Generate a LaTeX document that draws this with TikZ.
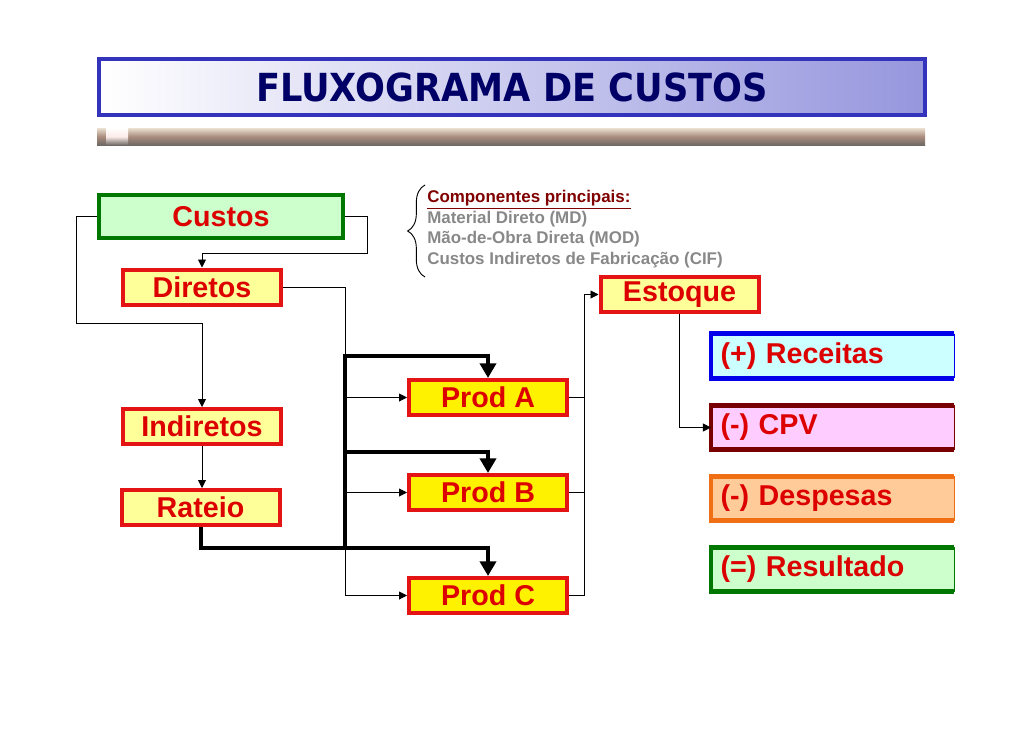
\documentclass[tikz,border=0pt]{standalone}
\usepackage{fontspec}
\setmainfont{Liberation Sans}
\newfontfamily\titlefont[FakeStretch=0.91]{DejaVu Sans}
\usetikzlibrary{arrows.meta,decorations.pathreplacing}

\definecolor{boxred}{RGB}{228,20,20}
\definecolor{txtred}{RGB}{220,0,0}
\definecolor{paleyellow}{RGB}{255,255,153}
\definecolor{boxgreen}{RGB}{0,120,0}
\definecolor{palegreen}{RGB}{204,255,204}
\definecolor{recblue}{RGB}{0,0,235}
\definecolor{recfill}{RGB}{204,255,255}
\definecolor{cpvred}{RGB}{120,0,0}
\definecolor{cpvfill}{RGB}{255,204,255}
\definecolor{despor}{RGB}{240,110,20}
\definecolor{despfill}{RGB}{255,204,153}
\definecolor{titleblue}{RGB}{51,51,187}
\definecolor{titlefill}{RGB}{150,150,222}
\definecolor{titletext}{RGB}{0,0,102}
\definecolor{notegray}{RGB}{136,136,136}
\definecolor{notered}{RGB}{128,0,0}
\definecolor{barmid}{RGB}{170,140,125}
\definecolor{bartop}{RGB}{235,225,210}
\definecolor{barlow}{RGB}{110,105,100}

\tikzset{
  bigfont/.style={font=\bfseries\fontsize{21.5}{24}\selectfont},
  box/.style={draw=boxred, line width=3pt, fill=paleyellow, text=txtred, inner sep=0pt,
    minimum width=118.5pt, minimum height=26.25pt, bigfont},
  prod/.style={box, fill=yellow},
  result/.style={text=txtred, text width=168pt, inner xsep=7pt, inner ysep=0pt,
    minimum height=33pt, align=left, bigfont},
  link/.style={line width=0.7pt, -{Triangle[length=6pt,width=6pt]}},
  wire/.style={line width=0.7pt},
  fat/.style={line width=3pt, -{Triangle[length=11pt,width=12pt]}}
}

\begin{document}
\begin{tikzpicture}[x=0.75pt,y=-0.75pt]
  \useasboundingbox (0,0) rectangle (1030,728);

  % title and bar below it
  \node[draw=titleblue, line width=3pt, left color=white, right color=titlefill,
    minimum width=619.5pt, minimum height=42pt, text=titletext,
    font=\titlefont\bfseries\fontsize{29}{32}\selectfont] (title) at (512,87) {FLUXOGRAMA DE CUSTOS};
  \shade[top color=bartop, bottom color=barlow, middle color=barmid]
    (97,128) rectangle (925,145);
  \shade[top color=white, bottom color=barlow, middle color=bartop!70!red!20!white] (106,128) rectangle (128,145);

  % boxes
  \node[box, fill=palegreen, draw=boxgreen, minimum width=183pt, minimum height=32.25pt] (custos) at (221,216.5) {Custos};
  \node[box] (diretos) at (202,287) {Diretos};
  \node[box] (indiretos) at (202,426.5) {Indiretos};
  \node[box] (rateio) at (200.5,507.5) {Rateio};
  \node[prod] (prodA) at (488,397.5) {Prod A};
  \node[prod] (prodB) at (488,492.5) {Prod B};
  \node[prod] (prodC) at (488,595.5) {Prod C};
  \node[box] (estoque) at (679.5,294.5) {Estoque};

  % result boxes, open look on the right
  \foreach \nm/\y/\lc/\fc/\txt in {rec/356/recblue/recfill/{(+) Receitas},
      cpv/427.5/cpvred/cpvfill/{(-) CPV},
      desp/498.5/despor/despfill/{(-) Despesas},
      res/569.5/boxgreen/palegreen/{(=) Resultado}} {
    \node[result, fill=\fc] (\nm) at (832.5,\y) {\txt};
    \draw[\lc, line width=0.8pt] (\nm.north east) -- (\nm.south east);
    \draw[\lc, line width=3.5pt] (\nm.north east) -- (\nm.north west) -- (\nm.south west) -- (\nm.south east);
  }

  % components note
  \draw[wire, decorate, decoration={brace, amplitude=13pt}] (425,277) -- (425,185);
  \node[anchor=north west, inner sep=0pt, align=left, text=notegray,
    font=\bfseries\fontsize{12.7}{15.4}\selectfont] (note) at (427,190)
    {\textcolor{notered}{\underline{Componentes principais:}}\\
     Material Direto (MD)\\
     Mão-de-Obra Direta (MOD)\\
     Custos Indiretos de Fabricação (CIF)};

  % thin connectors
  \coordinate (cR) at (367,253);
  \coordinate (cL) at (76,323);
  \coordinate (busT) at (345,356);
  \coordinate (busM) at (345,452);
  \coordinate (busB) at (345,548);
  \coordinate (eJ) at (584,294.5);
  \draw[link] (custos.east) -| (cR) -| (diretos.north);
  \draw[link] (custos.west) -| (cL) -| (indiretos.north);
  \draw[link] (indiretos.south) -- (indiretos.south |- rateio.north);
  \draw[link] (diretos.east) -| (prodC.west -| busT) -- (prodC.west);
  \draw[link] (prodA.west -| busT) -- (prodA.west);
  \draw[link] (prodB.west -| busT) -- (prodB.west);
  \draw[link] (prodC.east) -| (eJ) -- (estoque.west);
  \draw[wire] (prodA.east) -- (prodA.east -| eJ);
  \draw[wire] (prodB.east) -- (prodB.east -| eJ);
  \draw[link] (estoque.south) |- (cpv.west);

  % thick allocation lines
  \draw[fat] (rateio.south) |- (busB) -| (prodC.north);
  \draw[fat] (busB) -- (busT) -| (prodA.north);
  \draw[fat] (busM) -| (prodB.north);
\end{tikzpicture}
\end{document}
